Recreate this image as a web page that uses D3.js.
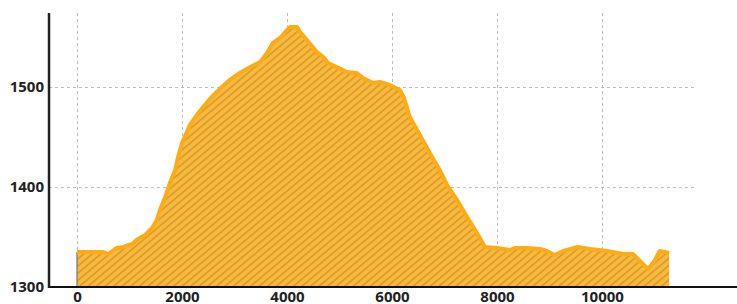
<!DOCTYPE html>
<html>
<head>
<meta charset="utf-8">
<script src="https://cdn.jsdelivr.net/npm/d3@7"></script>
<style>
  body { margin: 0; background: #fff; }
  svg { display: block; }
  .tick text { font-family: "Open Sans", sans-serif; font-weight: bold; font-size: 15px; fill: #222; }
</style>
</head>
<body>
<div id="chart"></div>
<script>
// elevation profile: distance (m) and elevation (m)
var distance = [0, 250, 500, 600, 750, 880, 1050, 1160, 1300, 1430, 1520, 1580, 1680, 1770, 1870, 1920,
    2000, 2150, 2340, 2530, 2760, 2910, 3100, 3300, 3490, 3620, 3730, 3870, 4000, 4060, 4190, 4250,
    4380, 4570, 4690, 4780, 4950, 5140, 5330, 5450, 5640, 5770, 5960, 6150, 6230, 6340, 6500, 6720,
    6910, 7070, 7240, 7430, 7620, 7770, 8000, 8250, 8340, 8570, 8820, 8950, 9100, 9260, 9540, 9770,
    10100, 10400, 10590, 10760, 10880, 11010, 11100, 11280];
var elevation = [1335, 1335, 1335, 1333, 1339, 1340, 1343, 1348, 1352, 1359, 1367, 1377, 1390, 1404, 1417, 1429,
    1444, 1462, 1476, 1488, 1500, 1507, 1514, 1520, 1525, 1534, 1544, 1549, 1557, 1560, 1560, 1555,
    1547, 1535, 1530, 1524, 1520, 1515, 1514, 1509, 1504, 1505, 1502, 1497, 1489, 1470, 1455, 1434,
    1417, 1400, 1387, 1370, 1354, 1340, 1339, 1337, 1339, 1339, 1338, 1336, 1332, 1336, 1340, 1338,
    1336, 1333, 1333, 1324, 1318, 1327, 1336, 1334];
var xTicks = [0, 2000, 4000, 6000, 8000, 10000];
var yTicks = [1300, 1400, 1500];

var width = 737, height = 304;
var m = {left: 49, right: 697, top: 13, bottom: 287};

var data = distance.map(function (d, i) { return {d: d, e: elevation[i]}; });

var svg = d3.select('#chart').append('svg')
    .attr('width', width)
    .attr('height', height);

var xScale = d3.scaleLinear().domain([-533, 11810]).range([m.left, m.right]);
var yScale = d3.scaleLinear().domain([1300, 1574]).range([m.bottom, m.top]);

// hatch pattern for the fill
var defs = svg.append('defs');
var pat = defs.append('pattern')
    .attr('id', 'hatch')
    .attr('patternUnits', 'userSpaceOnUse')
    .attr('width', 5.5).attr('height', 5.5)
    .attr('patternTransform', 'rotate(-40)');
pat.append('rect').attr('width', 5.5).attr('height', 5.5).attr('fill', '#f7b940');
pat.append('rect').attr('width', 5.5).attr('height', 1.6).attr('fill', '#d99b24');

// grid
var grid = svg.append('g').attr('stroke', '#bdbdbd').attr('stroke-width', 1).attr('stroke-dasharray', '3,3');
grid.selectAll('.vg').data(xTicks).enter().append('line')
    .attr('x1', function (d) { return Math.round(xScale(d)) + 0.5; })
    .attr('x2', function (d) { return Math.round(xScale(d)) + 0.5; })
    .attr('y1', m.top).attr('y2', m.bottom);
grid.selectAll('.hg').data(yTicks.slice(1)).enter().append('line')
    .attr('x1', m.left).attr('x2', m.right)
    .attr('y1', function (d) { return Math.round(yScale(d)) + 0.5; })
    .attr('y2', function (d) { return Math.round(yScale(d)) + 0.5; });

// area + line
var area = d3.area()
    .x(function (d) { return xScale(d.d); })
    .y0(yScale(1300))
    .y1(function (d) { return yScale(d.e); });
var line = d3.line()
    .x(function (d) { return xScale(d.d); })
    .y(function (d) { return yScale(d.e); });

svg.append('path').datum(data)
    .attr('d', area)
    .attr('fill', 'url(#hatch)');

svg.append('line')
    .attr('x1', xScale(0)).attr('x2', xScale(0))
    .attr('y1', yScale(elevation[0])).attr('y2', m.bottom)
    .attr('stroke', '#777').attr('stroke-width', 1.2);

svg.append('path').datum(data)
    .attr('d', line)
    .attr('fill', 'none')
    .attr('stroke', '#fcac14')
    .attr('stroke-width', 4)
    .attr('stroke-linejoin', 'round');

// axes
var xAxis = d3.axisBottom(xScale).tickValues(xTicks).tickSize(0).tickPadding(4).tickFormat(d3.format('d'));
var yAxis = d3.axisLeft(yScale).tickValues(yTicks).tickSize(0).tickPadding(5).tickFormat(d3.format('d'));

var gx = svg.append('g')
    .attr('transform', 'translate(0,' + m.bottom + ')')
    .call(xAxis);
gx.select('.domain').remove();
gx.selectAll('.tick text').attr('dy', '0.7em');

var gy = svg.append('g')
    .attr('transform', 'translate(' + m.left + ',0)')
    .call(yAxis);
gy.select('.domain').remove();

svg.append('line')
    .attr('x1', m.left).attr('x2', width)
    .attr('y1', m.bottom).attr('y2', m.bottom)
    .attr('stroke', '#111').attr('stroke-width', 2);
svg.append('line')
    .attr('x1', m.left).attr('x2', m.left)
    .attr('y1', m.top).attr('y2', m.bottom + 1)
    .attr('stroke', '#222').attr('stroke-width', 2.5);
</script>
</body>
</html>
